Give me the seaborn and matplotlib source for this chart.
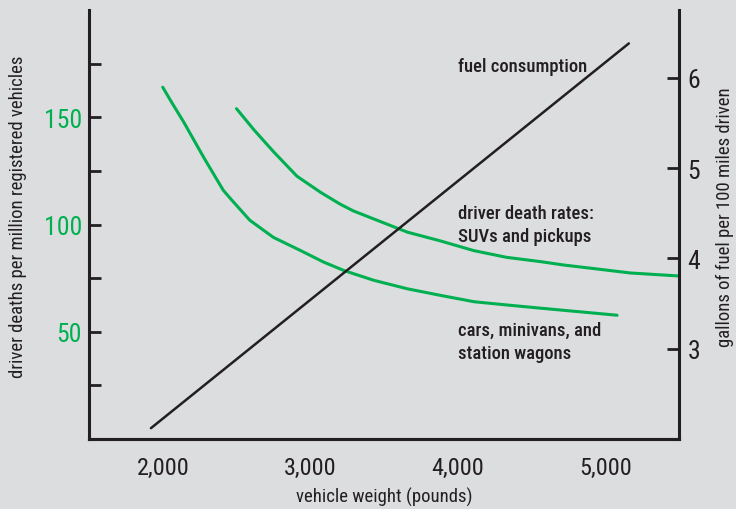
import matplotlib
matplotlib.use("Agg")
import matplotlib.pyplot as plt
import seaborn as sns

# vehicle weight (pounds) vs driver deaths per million registered vehicles
car_weight = [2000, 2060, 2140, 2280, 2410, 2460, 2590, 2750, 2930, 3090,
              3230, 3430, 3660, 3880, 4110, 4330, 4560, 5080]
car_deaths = [164, 157, 148, 131, 116, 112, 102, 94, 88, 82.5,
              78.5, 74, 70, 67, 64, 62.5, 61, 57.7]

suv_weight = [2500, 2620, 2750, 2910, 3070, 3200, 3290, 3430, 3660, 3880,
              4110, 4330, 4560, 4720, 4940, 5170, 5500]
suv_deaths = [154, 144, 134, 122.5, 115, 109.6, 106.4, 102.6, 96.4, 92.4,
              87.8, 84.7, 82.7, 81.1, 79.3, 77.4, 76]

# gallons of fuel per 100 miles driven
fuel_weight = [1920, 5160]
fuel_gallons = [2.12, 6.38]

x_ticks = [2000, 3000, 4000, 5000]
x_labels = ["2,000", "3,000", "4,000", "5,000"]
death_ticks = [25, 50, 75, 100, 125, 150, 175]
death_labels = ["", "50", "", "100", "", "150", ""]
fuel_ticks = [3, 4, 5, 6]
fuel_labels = ["3", "4", "5", "6"]

BG = "#dcdddf"
INK = "#231f20"
GREEN = "#00b050"

sns.set_style("white", rc={"axes.facecolor": BG, "figure.facecolor": BG,
                           "axes.edgecolor": INK})
plt.rcParams["font.family"] = ["Roboto Condensed", "DejaVu Sans"]

fig = plt.figure(figsize=(7.36, 5.10), dpi=100)
ax = fig.add_axes([89 / 736, 1 - 440 / 510, 590 / 736, 429 / 510])
ax2 = ax.twinx()

sns.lineplot(x=car_weight, y=car_deaths, ax=ax, color=GREEN, linewidth=2.2)
sns.lineplot(x=suv_weight, y=suv_deaths, ax=ax, color=GREEN, linewidth=2.2)
sns.lineplot(x=fuel_weight, y=fuel_gallons, ax=ax2, color=INK, linewidth=1.8)

ax.set_xlim(1500, 5500)
ax.set_ylim(0, 200)
ax2.set_ylim(2, 6.75)

ax.set_xticks(x_ticks, x_labels)
ax.set_yticks(death_ticks, death_labels)
ax2.set_yticks(fuel_ticks, fuel_labels)

ax.tick_params(axis="x", direction="in", length=8, width=2, color=INK,
               labelcolor=INK, labelsize=17.5, pad=12)
ax.tick_params(axis="y", direction="in", length=8.5, width=2, color=INK,
               labelcolor=GREEN, labelsize=18.5, pad=5)
ax2.tick_params(axis="y", direction="in", length=9, width=2, color=INK,
                labelcolor=INK, labelsize=18.5, pad=6)

for a in (ax, ax2):
    a.spines["top"].set_visible(False)
    for s in a.spines.values():
        s.set_linewidth(2.2)
        s.set_color(INK)
ax.spines["right"].set_visible(False)
ax2.spines["left"].set_visible(False)

ax.set_xlabel("vehicle weight (pounds)", fontsize=13.5, color=INK)
ax.xaxis.set_label_coords(0.5, -0.133)
ax.xaxis.label.set_va("center")
ax.set_ylabel("driver deaths per million registered vehicles", fontsize=13.5,
              color=INK)
ax.yaxis.set_label_coords(-0.12, 0.52)
ax.yaxis.label.set_va("center")
ax2.set_ylabel("gallons of fuel per 100 miles driven", fontsize=13.5, color=INK)
ax2.yaxis.set_label_coords(1.078, 0.52)
ax2.yaxis.label.set_va("center")

# in-chart notes, left edge at 4,000 lb
note = dict(fontsize=13.4, fontweight="medium", color=INK, ha="left",
            va="center", linespacing=1.35)
ax.text(4000, 174, "fuel consumption", **note)
ax.text(4000, 100, "driver death rates:\nSUVs and pickups", **note)
ax.text(4000, 45.5, "cars, minivans, and\nstation wagons", **note)

fig.savefig("out.png", dpi=100, facecolor=BG)
